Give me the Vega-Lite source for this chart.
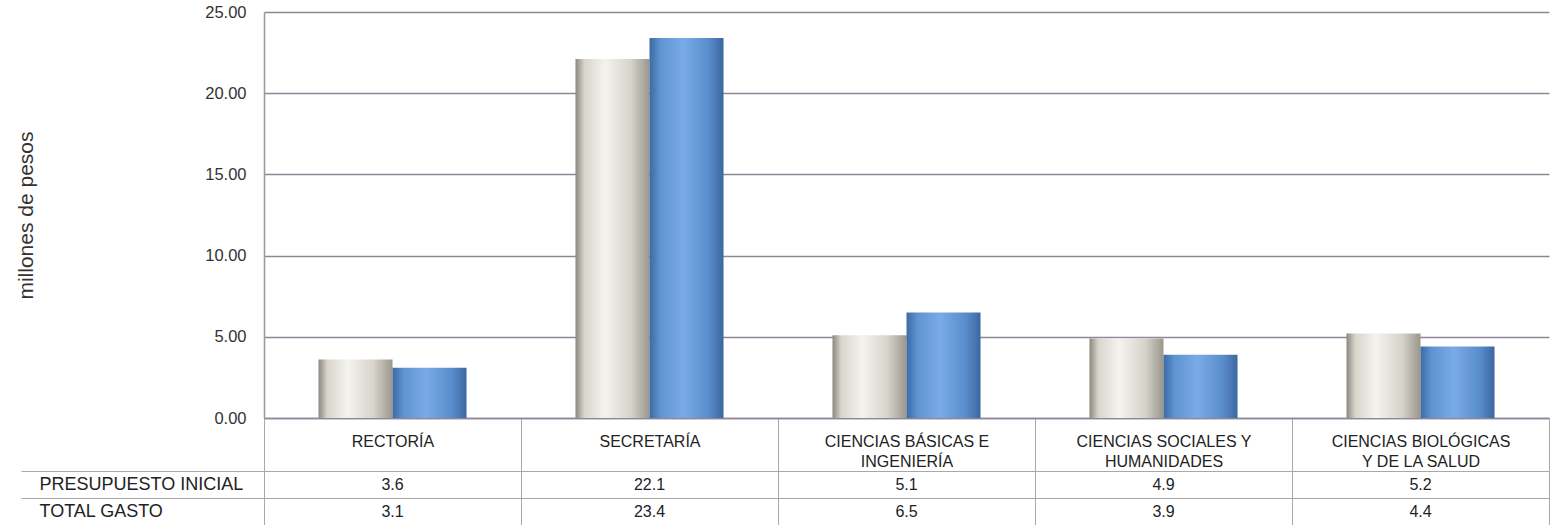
{
  "$schema": "https://vega.github.io/schema/vega-lite/v6.json",
  "padding": {"left": 15, "top": 4, "right": 0, "bottom": 0},
  "spacing": 53,
  "bounds": "flush",
  "background": "white",
  "config": {
    "view": {"stroke": null},
    "font": "Liberation Sans",
    "text": {"font": "Liberation Sans"}
  },
  "datasets": {
    "gasto": [
      {"categoria": "RECTORÍA", "serie": "PRESUPUESTO INICIAL", "valor": 3.6},
      {"categoria": "RECTORÍA", "serie": "TOTAL GASTO", "valor": 3.1},
      {"categoria": "SECRETARÍA", "serie": "PRESUPUESTO INICIAL", "valor": 22.1},
      {"categoria": "SECRETARÍA", "serie": "TOTAL GASTO", "valor": 23.4},
      {"categoria": "CIENCIAS BÁSICAS E INGENIERÍA", "serie": "PRESUPUESTO INICIAL", "valor": 5.1},
      {"categoria": "CIENCIAS BÁSICAS E INGENIERÍA", "serie": "TOTAL GASTO", "valor": 6.5},
      {"categoria": "CIENCIAS SOCIALES Y HUMANIDADES", "serie": "PRESUPUESTO INICIAL", "valor": 4.9},
      {"categoria": "CIENCIAS SOCIALES Y HUMANIDADES", "serie": "TOTAL GASTO", "valor": 3.9},
      {"categoria": "CIENCIAS BIOLÓGICAS Y DE LA SALUD", "serie": "PRESUPUESTO INICIAL", "valor": 5.2},
      {"categoria": "CIENCIAS BIOLÓGICAS Y DE LA SALUD", "serie": "TOTAL GASTO", "valor": 4.4}
    ]
  },
  "vconcat": [
    {
      "width": 1285,
      "height": 406,
      "data": {"name": "gasto"},
      "encoding": {
        "x": {
          "field": "categoria", "type": "nominal",
          "sort": ["RECTORÍA", "SECRETARÍA", "CIENCIAS BÁSICAS E INGENIERÍA", "CIENCIAS SOCIALES Y HUMANIDADES", "CIENCIAS BIOLÓGICAS Y DE LA SALUD"],
          "scale": {"paddingInner": 0, "paddingOuter": 0},
          "axis": {
            "title": null,
            "labelAngle": 0,
            "labelFontSize": 16,
            "labelColor": "#222",
            "labelLineHeight": 20,
            "labelPadding": -38,
            "labelExpr": "datum.value == 'CIENCIAS BÁSICAS E INGENIERÍA' ? ['CIENCIAS BÁSICAS E', 'INGENIERÍA'] : datum.value == 'CIENCIAS SOCIALES Y HUMANIDADES' ? ['CIENCIAS SOCIALES Y', 'HUMANIDADES'] : datum.value == 'CIENCIAS BIOLÓGICAS Y DE LA SALUD' ? ['CIENCIAS BIOLÓGICAS', 'Y DE LA SALUD'] : datum.value",
            "ticks": true,
            "tickBand": "extent",
            "tickSize": 53,
            "tickColor": "#a8a8a8",
            "domain": true,
            "domainColor": "#8e8798",
            "domainWidth": 1.5
          }
        },
        "xOffset": {
          "field": "serie", "type": "nominal",
          "sort": ["PRESUPUESTO INICIAL", "TOTAL GASTO"],
          "scale": {"paddingInner": 0, "paddingOuter": 0.736}
        },
        "y": {
          "field": "valor", "type": "quantitative",
          "scale": {"domain": [0, 25], "nice": false},
          "axis": {
            "title": "millones de pesos",
            "titleFontSize": 21,
            "titleFontWeight": "normal",
            "titleColor": "#333",
            "titlePadding": 168,
            "values": [0, 5, 10, 15, 20, 25],
            "format": ".2f",
            "labelFontSize": 16.5,
            "labelColor": "#333",
            "labelPadding": 18,
            "ticks": false,
            "grid": true,
            "gridColor": "#8e8798",
            "gridWidth": 1.5,
            "domain": true,
            "domainColor": "#999",
            "domainWidth": 1.5
          }
        }
      },
      "layer": [
        {
          "transform": [{"filter": "datum.serie === 'PRESUPUESTO INICIAL'"}],
          "mark": {
            "type": "bar",
            "color": {
              "gradient": "linear", "x1": 0, "y1": 0, "x2": 1, "y2": 0,
              "stops": [
                {"offset": 0, "color": "#8c887e"},
                {"offset": 0.12, "color": "#d8d5cc"},
                {"offset": 0.4, "color": "#f4f3ee"},
                {"offset": 0.75, "color": "#d6d3ca"},
                {"offset": 1, "color": "#9a968c"}
              ]
            }
          }
        },
        {
          "transform": [{"filter": "datum.serie === 'TOTAL GASTO'"}],
          "mark": {
            "type": "bar",
            "color": {
              "gradient": "linear", "x1": 0, "y1": 0, "x2": 1, "y2": 0,
              "stops": [
                {"offset": 0, "color": "#3d6aa3"},
                {"offset": 0.15, "color": "#5f93d2"},
                {"offset": 0.45, "color": "#79abe6"},
                {"offset": 0.8, "color": "#5a8dcc"},
                {"offset": 1, "color": "#3c67a0"}
              ]
            }
          }
        }
      ]
    },
    {
      "width": 1285,
      "height": 54,
      "data": {"name": "gasto"},
      "mark": {"type": "text", "fontSize": 16, "color": "#222", "font": "Liberation Sans"},
      "encoding": {
        "x": {
          "field": "categoria", "type": "nominal",
          "sort": ["RECTORÍA", "SECRETARÍA", "CIENCIAS BÁSICAS E INGENIERÍA", "CIENCIAS SOCIALES Y HUMANIDADES", "CIENCIAS BIOLÓGICAS Y DE LA SALUD"],
          "scale": {"paddingInner": 0, "paddingOuter": 0},
          "axis": {
            "title": null, "labels": false, "ticks": false, "domain": false,
            "grid": true, "gridColor": "#a8a8a8", "tickBand": "extent"
          }
        },
        "y": {
          "field": "serie", "type": "nominal",
          "sort": ["PRESUPUESTO INICIAL", "TOTAL GASTO"],
          "scale": {"paddingInner": 0, "paddingOuter": 0},
          "axis": {
            "title": null,
            "labelAlign": "left",
            "labelPadding": -18,
            "labelFontSize": 18,
            "labelLimit": 400,
            "labelColor": "#222",
            "ticks": true,
            "tickSize": 243,
            "tickBand": "extent",
            "tickColor": "#a8a8a8",
            "grid": true,
            "gridColor": "#a8a8a8",
            "domain": false
          }
        },
        "text": {"field": "valor", "type": "quantitative", "format": ".1f"}
      }
    }
  ]
}
